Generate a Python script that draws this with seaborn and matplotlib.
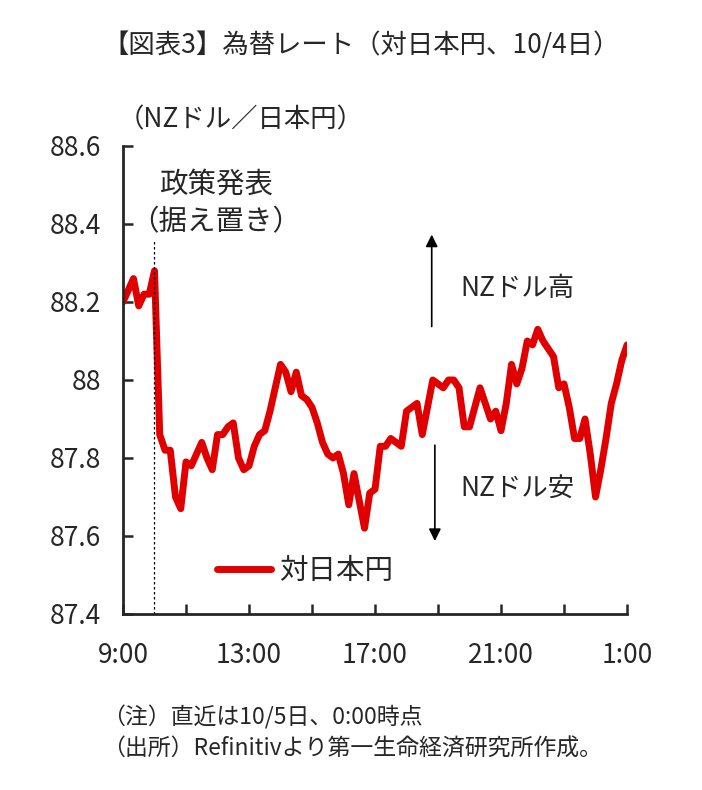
import numpy as np
import pandas as pd
import matplotlib
matplotlib.use("Agg")
import matplotlib.pyplot as plt
import seaborn as sns

# NZD/JPY, 10-minute data from 9:00 (10/4) to 1:00 (10/5)
start_hour = 9
step_minutes = 10
rates = [
    88.20, 88.23, 88.26, 88.19, 88.22, 88.22, 88.28, 87.86, 87.82, 87.82,
    87.70, 87.67, 87.79, 87.78, 87.81, 87.84, 87.80, 87.77, 87.86, 87.86,
    87.88, 87.89, 87.80, 87.77, 87.78, 87.83, 87.86, 87.87, 87.92, 87.98,
    88.04, 88.02, 87.97, 88.02, 87.96, 87.95, 87.93, 87.89, 87.84, 87.81,
    87.80, 87.81, 87.76, 87.68, 87.76, 87.69, 87.62, 87.71, 87.72, 87.83,
    87.83, 87.85, 87.84, 87.83, 87.92, 87.93, 87.94, 87.86, 87.93, 88.00,
    87.99, 87.98, 88.00, 88.00, 87.98, 87.88, 87.88, 87.93, 87.98, 87.94,
    87.90, 87.92, 87.87, 87.94, 88.04, 87.99, 88.03, 88.10, 88.09, 88.13,
    88.10, 88.08, 88.06, 87.98, 87.99, 87.93, 87.85, 87.85, 87.90, 87.81,
    87.70, 87.77, 87.85, 87.94, 87.99, 88.05, 88.09,
]
x_ticks = [9, 11, 13, 15, 17, 19, 21, 23, 25]
x_labels = ["9:00", "", "13:00", "", "17:00", "", "21:00", "", "1:00"]
y_ticks = [87.4, 87.6, 87.8, 88.0, 88.2, 88.4, 88.6]
y_labels = ["87.4", "87.6", "87.8", "88", "88.2", "88.4", "88.6"]
announce_hour = 10  # policy announcement (rate unchanged)

df = pd.DataFrame({
    "hour": start_hour + np.arange(len(rates)) * step_minutes / 60,
    "rate": rates,
})

sns.set_style("ticks")
plt.rcParams["font.family"] = ["Noto Sans CJK JP", "DejaVu Sans"]

fig = plt.figure(figsize=(7.02, 7.90), dpi=100)
ax = fig.add_axes([0.1752, 0.2228, 0.718, 0.5924])

sns.lineplot(data=df, x="hour", y="rate", ax=ax, color="#e00000",
             linewidth=5, label="対日本円", solid_capstyle="round")

ax.set_xlim(9, 25)
ax.set_ylim(87.4, 88.6)
ax.set_xticks(x_ticks)
ax.set_xticklabels(x_labels)
ax.set_yticks(y_ticks)
ax.set_yticklabels(y_labels)
ax.tick_params(direction="in", length=7, width=1.8, labelsize=19)
ax.tick_params(axis="x", pad=20)
ax.tick_params(axis="y", pad=16)
ax.set_xlabel("")
ax.set_ylabel("")
for side in ["top", "right"]:
    ax.spines[side].set_visible(False)
for side in ["left", "bottom"]:
    ax.spines[side].set_linewidth(2)

# policy announcement marker
ax.plot([announce_hour, announce_hour], [87.4, 88.36], color="black",
        linestyle=(0, (2, 2)), linewidth=0.9)
ax.text(announce_hour + 1.95, 88.5, "政策発表", ha="center", va="center",
        fontsize=20.5)
ax.text(announce_hour + 1.95, 88.405, "（据え置き）", ha="center",
        va="center", fontsize=20.5)

# direction arrows
ax.annotate("", xy=(18.8, 88.38), xytext=(18.8, 88.13),
            arrowprops=dict(arrowstyle="-|>", color="black", lw=1.2,
                            mutation_scale=18))
ax.annotate("", xy=(18.9, 87.58), xytext=(18.9, 87.84),
            arrowprops=dict(arrowstyle="-|>", color="black", lw=1.2,
                            mutation_scale=18))
ax.text(19.7, 88.235, "NZドル高", ha="left", va="center", fontsize=19)
ax.text(19.7, 87.72, "NZドル安", ha="left", va="center", fontsize=19)

ax.legend(loc="lower left", bbox_to_anchor=(0.135, 0.005), frameon=False,
          fontsize=20.5, handlelength=1.9, handletextpad=0.3)

fig.text(0.515, 0.943, "【図表3】為替レート（対日本円、10/4日）",
         ha="center", va="center", fontsize=19)
fig.text(0.168, 0.848, "（NZドル／日本円）", ha="left", va="center",
         fontsize=19)
fig.text(0.146, 0.092, "（注）直近は10/5日、0:00時点", ha="left",
         va="center", fontsize=16.5)
fig.text(0.146, 0.052, "（出所）Refinitivより第一生命経済研究所作成。",
         ha="left", va="center", fontsize=16.5)

fig.savefig("out.png", dpi=100)
